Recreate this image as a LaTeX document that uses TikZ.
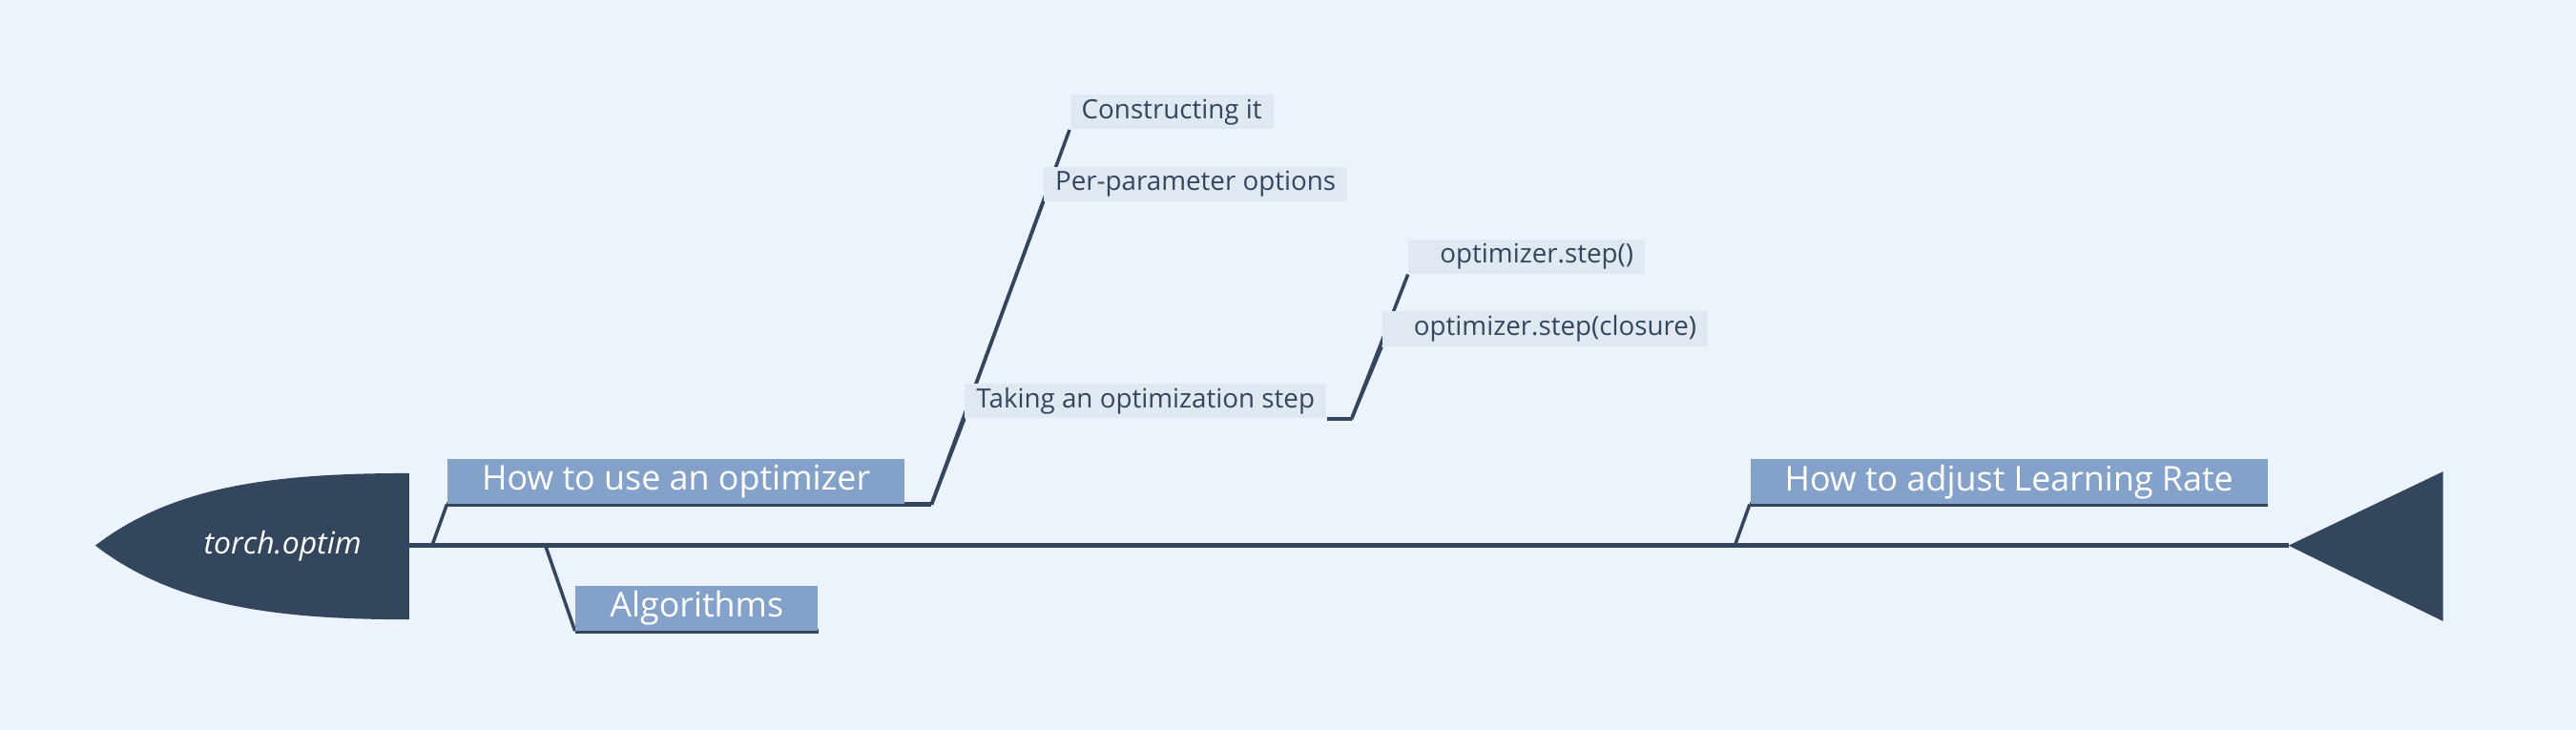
\documentclass[tikz,border=0pt]{standalone}
\usepackage{fontspec}
\setmainfont{Open Sans}
\usetikzlibrary{calc,backgrounds}
\definecolor{pagebg}{HTML}{ECF3FA}
\definecolor{navy}{HTML}{34465E}
\definecolor{topicblue}{HTML}{84A2C9}
\definecolor{subgray}{HTML}{E0E8F1}
\tikzset{
  maintopic/.style={fill=topicblue, text=white, inner xsep=0.36cm, inner ysep=0pt,
    minimum height=0.465cm, anchor=south west, font=\fontsize{10.2}{12}\selectfont},
  subtopic/.style={fill=subgray, text=navy, inner xsep=0.12cm, inner ysep=0pt,
    minimum height=0.362cm, anchor=south west, font=\fontsize{7.9}{9.5}\selectfont},
  spineline/.style={draw=navy, line width=1.3pt},
  branch/.style={draw=navy, line width=1pt},
}
\begin{document}
\begin{tikzpicture}[x=0.01722cm, y=-0.01722cm]
  \useasboundingbox (0,0) rectangle (1568,444);
  % head and tail
  \fill[navy] (249,288) .. controls (165,288) and (105,296) .. (58,332)
    .. controls (105,368) and (165,377) .. (249,377) -- cycle;
  \fill[navy] (1393,332) -- (1487,287) -- (1487,378) -- cycle;
  \node[text=white, font=\fontsize{9.1}{11}\selectfont\itshape] (root) at (172,332) {torch.optim};
  \coordinate (neck) at (249,332);
  \coordinate (tail) at (1393,332);
  % main topics
  \node[maintopic] (use) at (272,307) {How to use an optimizer};
  \node[maintopic] (alg) at (350,384) {Algorithms};
  \node[maintopic] (lr) at (1065,307) {How to adjust Learning Rate};
  % subtopics
  \node[subtopic] (build) at (651,79) {Constructing it};
  \node[subtopic] (perparam) at (635,123) {Per-parameter options};
  \node[subtopic] (takestep) at (587,255) {Taking an optimization step};
  \node[subtopic] (plainstep) at (857,167) {\hspace*{0.21cm}optimizer.step()};
  \node[subtopic] (closurestep) at (841,211) {\hspace*{0.21cm}optimizer.step(closure)};
  % forks
  \coordinate (usefork) at ($(use.south east)+(16,0)$);
  \coordinate (stepfork) at ($(takestep.south east)+(15,0)$);
  \begin{scope}[on background layer]
    \fill[pagebg] (0,0) rectangle (1568,444);
    % spine
    \draw[spineline] (neck) -- (tail);
    % branches off the spine
    \draw[branch] (263,332) -- (use.south west);
    \draw[branch] (332,332) -- (alg.south west);
    \draw[branch] (1056,332) -- (lr.south west);
    \draw[spineline] (use.south west) -- (usefork);
    \draw[spineline] (alg.south west) -- (alg.south east);
    \draw[spineline] (lr.south west) -- (lr.south east);
    % subtopic lines
    \draw[branch] (usefork) -- (build.south west);
    \draw[branch] (usefork) -- (perparam.south west);
    \draw[branch] (usefork) -- (takestep.south west);
    \draw[branch] (takestep.south east) -- (stepfork);
    \draw[branch] (stepfork) -- (plainstep.south west);
    \draw[branch] (stepfork) -- (closurestep.south west);
  \end{scope}
\end{tikzpicture}
\end{document}
